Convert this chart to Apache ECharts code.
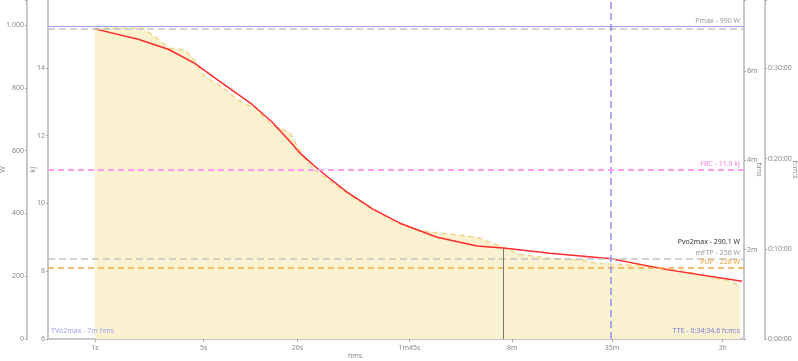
<!DOCTYPE html>
<html><head><meta charset="utf-8">
<script src="https://cdn.jsdelivr.net/npm/echarts@6/dist/echarts.min.js"></script>
<style>html,body{margin:0;padding:0;background:#fff}#c{width:798px;height:361px}</style>
</head><body><div id="c"></div>
<script>
// X axis ticks (seconds) and labels
const xTickValues = [1, 5, 20, 105, 480, 2100, 10800];
const xTickLabels = ['1s', '5s', '20s', '1m45s', '8m', '35m', '3h'];

// Mean maximal power curve (seconds, W)
const mmpTime  = [1, 2.04, 2.43, 3.03, 3.79, 4.18, 4.73, 5.09, 6.52, 8.34, 9.67, 10.7, 11.8, 13.7, 15.1, 16.6, 17.9, 19.8, 22.4, 24.7, 26.6, 37.6, 48, 61.3, 67.9, 78.7, 117, 149, 191, 285, 345, 420, 539, 840, 1368, 1683, 2263, 2868, 3690, 6350, 11480, 13970];
const mmpPower = [990, 990, 963, 926, 921, 900, 862, 836, 804, 761, 745, 740, 714, 682, 671, 666, 656, 618, 575, 549, 533, 480, 445, 414, 401, 379, 347, 340, 334, 324, 308, 292, 270, 257, 251, 241, 238, 235, 232, 214, 187, 170];

// Model curve (seconds, W)
const modelTime  = [1, 1.9, 2.96, 4.39, 4.85, 6.85, 10.2, 13.7, 18.4, 20.8, 27.9, 41.5, 61.5, 91.2, 158, 285, 420, 840, 2075, 4724, 14400];
const modelPower = [988, 955, 923, 878, 862, 809, 748, 692, 623, 592, 536, 469, 413, 369, 324, 296, 290.1, 273, 256, 221, 184];

// Reference values
const pmaxW = 996;
const mmpMaxW = 987;
const frcKJ = 11.0;
const mftpW = 256;
const pupW = 228;
const pvo2maxW = 290.1;
const tvo2maxSec = 420;
const tteSec = 2074.6;

const FONT = 'Noto Sans';
const labelColor = '#888';
const axisLineStyle = {show: true, lineStyle: {color: '#c8c8c8', width: 2}};
const tick = {show: true, length: 2, lineStyle: {color: '#aaa'}};

function pair(a, b) { return a.map((v, i) => [v, b[i]]); }
function hms(v) {
  const h = Math.floor(v / 3600), m = Math.floor((v % 3600) / 60), s = Math.round(v % 60);
  return h + ':' + String(m).padStart(2, '0') + ':' + String(s).padStart(2, '0');
}

const chart = echarts.init(document.getElementById('c'), null, {renderer: 'canvas'});
chart.setOption({
  animation: false,
  textStyle: {fontFamily: FONT},
  grid: {left: 48, right: 54, top: 0, bottom: 22, containLabel: false, outerBoundsMode: 'none'},
  xAxis: {
    type: 'log', logBase: 10, min: 0.5, max: 14800,
    axisLine: axisLineStyle,
    axisTick: {show: true, length: 3, lineStyle: {color: '#aaa'}, customValues: xTickValues},
    axisLabel: {customValues: xTickValues, fontSize: 7, color: labelColor, margin: 5,
      formatter: v => { const i = xTickValues.findIndex(t => Math.abs(t - v) / t < 1e-3); return i >= 0 ? xTickLabels[i] : ''; }},
    splitLine: {show: false}
  },
  yAxis: [
    {type: 'value', position: 'left', offset: 21, min: 0, max: 1080, interval: 200,
     name: 'W', nameLocation: 'middle', nameGap: 21, nameMoveOverlap: false, nameTextStyle: {fontSize: 7, color: labelColor},
     axisLine: axisLineStyle, axisTick: tick, splitLine: {show: false},
     axisLabel: {fontSize: 7, color: labelColor, margin: 3,
       formatter: v => v % 200 ? '' : (v >= 1000 ? '1.' + String(v - 1000).padStart(3, '0') : String(v))}},
    {type: 'value', position: 'left', offset: 0, min: 6, max: 16, interval: 2,
     name: 'kJ', nameLocation: 'middle', nameGap: 12, nameMoveOverlap: false, nameTextStyle: {fontSize: 7, color: labelColor},
     axisLine: axisLineStyle, axisTick: tick, splitLine: {show: false},
     axisLabel: {fontSize: 7, color: labelColor, margin: 3, showMaxLabel: false}},
    {type: 'value', position: 'right', offset: 0, min: 0, max: 455, interval: 120,
     name: 'hms', nameLocation: 'middle', nameGap: 11, nameRotate: -90, nameMoveOverlap: false, nameTextStyle: {fontSize: 7, color: labelColor},
     axisLine: axisLineStyle, axisTick: tick, splitLine: {show: false},
     axisLabel: {fontSize: 7, color: labelColor, margin: 3,
       formatter: v => (v === 0 || v % 120) ? '' : (v / 60) + 'm'}},
    {type: 'value', position: 'right', offset: 21, min: 0, max: 2254, interval: 600,
     name: 'h:m:s', nameLocation: 'middle', nameGap: 26, nameRotate: -90, nameMoveOverlap: false, nameTextStyle: {fontSize: 7, color: labelColor},
     axisLine: axisLineStyle, axisTick: tick, splitLine: {show: false},
     axisLabel: {fontSize: 7, color: labelColor, margin: 3,
       formatter: v => v % 600 ? '' : hms(v)}}
  ],
  series: [
    {type: 'line', name: 'MMP', yAxisIndex: 0, data: pair(mmpTime, mmpPower), symbol: 'none', z: 1,
     lineStyle: {color: '#f2d58a', width: 1.5, type: [5, 4]},
     areaStyle: {color: '#f9f1cf', opacity: 1}},
    {type: 'line', name: 'Model', yAxisIndex: 0, data: pair(modelTime, modelPower), symbol: 'none', z: 4,
     lineStyle: {color: '#ff2a2a', width: 1.5}},
    {type: 'line', name: 'refW', yAxisIndex: 0, data: [], z: 3,
     markLine: {silent: true, symbol: 'none', animation: false,
       label: {fontSize: 7, fontFamily: FONT, position: 'insideEndTop', distance: [4, 2]},
       data: [
         {yAxis: pmaxW, lineStyle: {color: '#9a9aff', type: 'solid', width: 1},
          label: {formatter: 'Pmax - 990 W', color: '#999'}},
         {yAxis: mmpMaxW, lineStyle: {color: '#c4c4c4', type: [7, 4], width: 1.5}, label: {show: false}},
         {yAxis: mftpW, lineStyle: {color: '#c4c4c4', type: [7, 4], width: 1.5},
          label: {formatter: 'mFTP - 256 W', color: '#999'}},
         {yAxis: pupW, lineStyle: {color: '#f5aa45', type: [6, 4], width: 1.5},
          label: {formatter: 'PUP - 228 W', color: '#f0a030'}},
         {yAxis: pvo2maxW, lineStyle: {color: 'rgba(0,0,0,0)', width: 0.01},
          label: {formatter: 'Pvo2max - 290.1 W', color: '#333'}},
         [{coord: [tvo2maxSec, pvo2maxW], lineStyle: {color: '#777', type: 'solid', width: 1}, label: {show: false}},
          {coord: [tvo2maxSec, 0]}],
         {xAxis: tteSec, lineStyle: {color: '#9090f0', type: [7, 4], width: 1.5}, label: {show: false}}
       ]}},
    {type: 'line', name: 'refKJ', yAxisIndex: 1, data: [], z: 3,
     markLine: {silent: true, symbol: 'none', animation: false,
       label: {fontSize: 7, fontFamily: FONT, position: 'insideEndTop', distance: [4, 2]},
       data: [
         {yAxis: frcKJ, lineStyle: {color: '#ff9cf0', type: [6, 4], width: 2},
          label: {formatter: 'FRC - 11.0 kJ', color: '#f080e0'}}
       ]}}
  ],
  graphic: [
    {type: 'text', x: 51, y: 331, z: 10, style: {text: 'TVo2max - 7m hms', fill: '#a0a0f8', font: '7px "Noto Sans"', textVerticalAlign: 'middle'}},
    {type: 'text', x: 740, y: 331, z: 10, style: {text: 'TTE - 0:34:34.6 h:m:s', fill: '#7878d8', font: '7px "Noto Sans"', textAlign: 'right', textVerticalAlign: 'middle'}},
    {type: 'text', x: 355, y: 356, z: 10, style: {text: 'hms', fill: labelColor, font: '7px "Noto Sans"', textAlign: 'center', textVerticalAlign: 'middle'}}
  ]
});
</script></body></html>
